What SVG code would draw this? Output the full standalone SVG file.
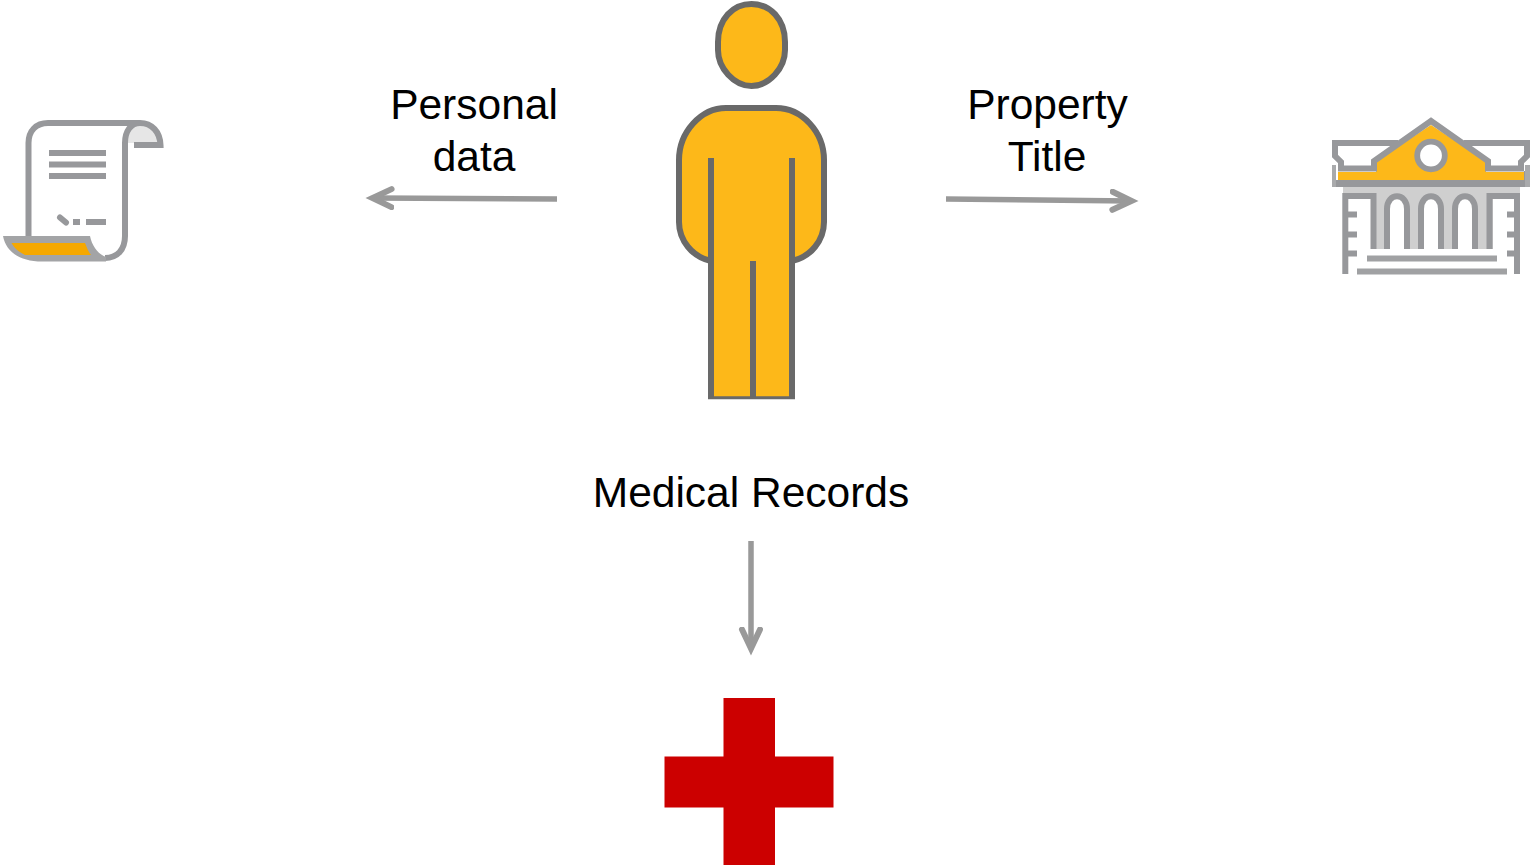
<svg xmlns="http://www.w3.org/2000/svg" width="1532" height="865" viewBox="0 0 1532 865">
<style>
text{font-family:"Liberation Sans",Arial,sans-serif;font-size:42.500px;fill:#000;text-anchor:middle}
.conn{fill:none;stroke:#999;stroke-width:5.500}
.p{fill:#fdb819;stroke:#696969;stroke-width:6;stroke-linejoin:round}
.l{fill:none;stroke:#696969;stroke-width:6}
.g{fill:none;stroke:#97989b;stroke-width:6}
.b{fill:#97989b}
</style>
<defs><marker id="a" markerUnits="userSpaceOnUse" markerWidth="30" markerHeight="30" refX="22" refY="12" orient="auto" viewBox="0 0 30 30"><path d="M3 3L22 12L3 21" fill="none" stroke="#999" stroke-width="6" stroke-linecap="round"/></marker></defs>
<rect width="1532" height="865" fill="#fff"/>
<g id="connectors">
<path class="conn" d="M557 199L372.500 198" marker-end="url(#a)"/>
<path class="conn" d="M946 199L1131.500 201" marker-end="url(#a)"/>
<path class="conn" d="M751 541V648.500" marker-end="url(#a)"/>
</g>
<g id="doc">
<path d="M127 143C127 130 133 124 141 124C153 124 160 132 161 143H134Z" fill="#e6e6e6"/>
<path class="g" d="M28.500 237V143C28.500 131 36 123 48 123H140C152 123 160 132 160.500 145H134M140 123C131 123 125 131 125 143V236C125 250 117 258 105 258"/>
<path d="M3 236H90C92 246 98 254 106 257V261.500H42C20 261.500 6 252 3 236Z" fill="#a3a4a6"/>
<path d="M11.500 243H85C87 248 88.500 252 91 255H25C19 252 14 248 11.500 243Z" fill="#f5a800"/>
<rect class="b" x="49" y="150" width="57" height="6"/><rect class="b" x="49" y="161.500" width="57" height="6"/><rect class="b" x="49" y="173" width="57" height="6"/>
<path d="M60 217.500L66 222.500" stroke="#97989b" stroke-width="6" stroke-linecap="round"/>
<rect class="b" x="73" y="219" width="7" height="6"/><rect class="b" x="86" y="219" width="20" height="6"/>
</g>
<g id="person">
<path class="p" d="M751.500 4C733 4 718 19 718 42V50C718 68 734 86 751.500 86C769 86 785 68 785 50V42C785 19 770 4 751.500 4Z"/>
<path class="p" d="M711 397V261C692 257 679 240 679 222V160C679 132 701 108 726 108H776C802 108 824 132 824 160V222C824 240 811 257 792 261V397" />
<rect x="714" y="380" width="75" height="17" fill="#fdb819"/>
<path class="l" d="M711 158V399M792 158V399M753 261V398"/>
<path d="M708 397.700H795" stroke="#696969" stroke-width="3"/>
</g>
<g id="building">
<path d="M1343 187H1520V193H1493V249H1373V193H1343Z" fill="#cfcfcf"/>
<path d="M1338 172H1376V161L1431 125L1486 161V172H1524V180H1338Z" fill="#fdb819"/>
<circle cx="1431" cy="155.500" r="13.800" fill="#fff" stroke="#97989b" stroke-width="5.800"/>
<path fill="none" stroke="#97989b" stroke-width="6" d="M1398 143H1335V156L1341 162V168.500H1374V161L1431 121L1488 161V168.500H1521V162L1527 156V143H1464"/>
<path d="M1336 171V180H1524V171H1530V187H1332V165H1336Z" fill="#97989b"/>
<path d="M1332 165H1336V187H1332ZM1525 165H1530V187H1525Z" fill="#a9aaac"/>
<g fill="#fff">
<path d="M1387 249V209C1387 192 1407 192 1407 209V249Z"/>
<path d="M1421 249V209C1421 192 1441 192 1441 209V249Z"/>
<path d="M1455 249V209C1455 192 1475 192 1475 209V249Z"/>
</g>
<g fill="none" stroke="#97989b" stroke-width="6">
<path d="M1373.500 249V196H1345.300V274M1489.500 249V196H1517V274"/>
<path d="M1345 214.500H1357M1345 234.500H1357M1345 253.500H1357M1517 214.500H1507M1517 234.500H1507M1517 253.500H1507"/>
<path d="M1387 249V209C1387 192 1407 192 1407 209V249"/>
<path d="M1421 249V209C1421 192 1441 192 1441 209V249"/>
<path d="M1455 249V209C1455 192 1475 192 1475 209V249"/>
<path d="M1367 258.500H1497M1357 271.500H1507" stroke="#a0a1a3"/>
</g>
</g>
<g id="cross"><path d="M723.500 698H775V756.500H833.500V807.500H775V865H723.500V807.500H664.500V756.500H723.500Z" fill="#cc0000"/></g>
<g id="labels">
<text x="474" y="119">Personal</text>
<text x="474" y="171">data</text>
<text x="1047.500" y="119">Property</text>
<text x="1047" y="171">Title</text>
<text x="751" y="507">Medical Records</text>
</g>
</svg>
